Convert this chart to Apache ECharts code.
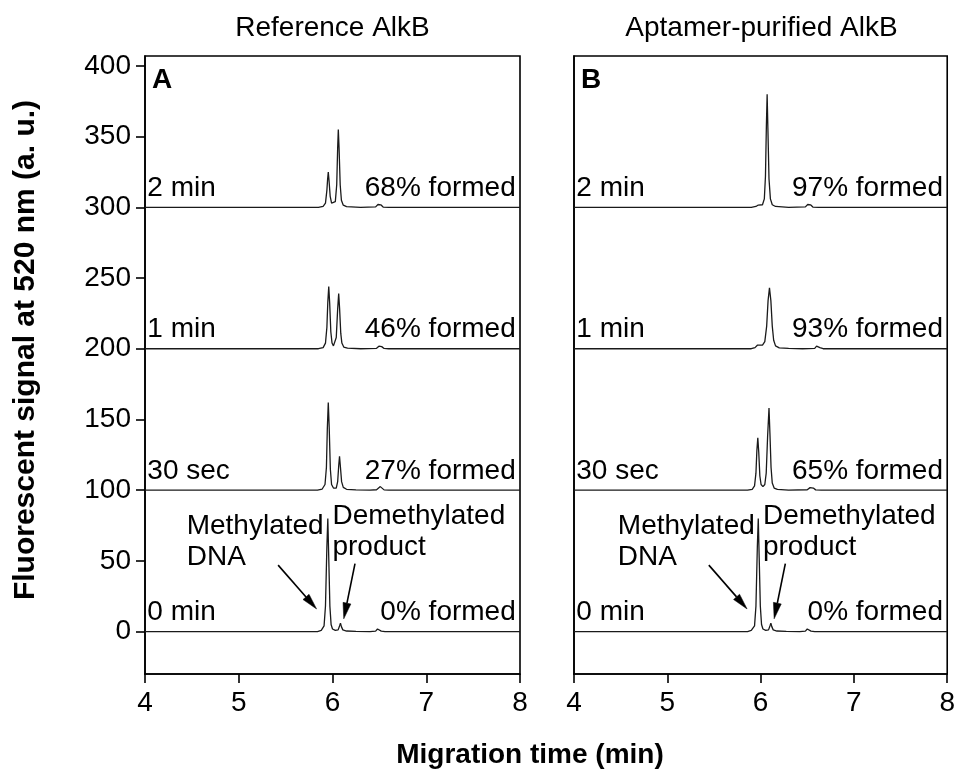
<!DOCTYPE html>
<html>
<head>
<meta charset="utf-8">
<script src="https://cdn.jsdelivr.net/npm/echarts@6/dist/echarts.min.js"></script>
<style>
  html, body { margin: 0; padding: 0; background: #ffffff; }
  #chart { width: 958px; height: 775px; }
</style>
</head>
<body>
<div id="chart"></div>
<script>
// Capillary electrophoresis traces of the AlkB demethylation assay.
// Each trace: [migration time (min), signal above that run's baseline (a.u.)].
const runLabels = ['0 min', '30 sec', '1 min', '2 min'];
const runOffsets = [0, 100, 200, 300];
const refFormed = ['0% formed', '27% formed', '46% formed', '68% formed'];
const aptFormed = ['0% formed', '65% formed', '93% formed', '97% formed'];
const xTicks = [4, 5, 6, 7, 8];
const yTicks = [0, 50, 100, 150, 200, 250, 300, 350, 400];

// Reference AlkB
const ref0min = [[4.00,0],[5.26,0],[5.27,-0.8],[5.28,0],[5.84,0],[5.88,0.8],[5.91,4],[5.925,18],[5.94,60],[5.95,80],[5.96,52],[5.972,18],[5.985,5],[6.00,1.8],[6.03,0.8],[6.06,1.2],[6.075,4],[6.085,6],[6.095,3.5],[6.11,1.2],[6.15,0.4],[6.25,0.2],[6.40,0],[6.46,0.3],[6.48,1.8],[6.49,2.6],[6.50,1.8],[6.52,0.3],[6.56,0],[8.00,0]];
const ref30sec = [[4.00,0],[4.41,0],[4.42,0.8],[4.43,0],[5.17,0],[5.18,0.8],[5.19,0],[5.84,0],[5.89,0.8],[5.92,4],[5.935,16],[5.945,44],[5.955,62],[5.965,44],[5.977,15],[5.99,4],[6.01,1.5],[6.04,1.5],[6.055,6],[6.067,18],[6.075,24],[6.085,16],[6.097,6],[6.115,2],[6.15,0.6],[6.25,0.2],[6.40,0],[6.47,0.3],[6.49,1.6],[6.51,2.5],[6.525,1.5],[6.55,0.2],[6.60,0],[8.00,0]];
const ref1min = [[4.00,0],[5.85,0],[5.90,0.8],[5.925,4],[5.94,15],[5.95,33],[5.96,44],[5.97,32],[5.982,12],[5.995,4],[6.01,2],[6.025,2.5],[6.04,8],[6.055,28],[6.066,39],[6.076,28],[6.088,11],[6.10,4],[6.12,1.2],[6.16,0.4],[6.30,0],[6.47,0.3],[6.495,1.8],[6.51,2.6],[6.525,1.5],[6.55,0.2],[6.60,0],[8.00,0]];
const ref2min = [[4.00,0],[5.85,0],[5.90,0.6],[5.925,3],[5.94,12],[5.948,20],[5.955,25],[5.963,19],[5.975,8],[5.99,3],[6.01,2],[6.03,4],[6.045,16],[6.055,42],[6.062,55],[6.07,42],[6.082,16],[6.095,5],[6.115,1.5],[6.15,0.5],[6.30,0],[6.46,0.3],[6.485,2],[6.50,3],[6.515,1.8],[6.54,0.2],[6.60,0],[8.00,0]];

// Aptamer-purified AlkB
const apt0min = [[4.00,0],[5.28,0],[5.29,-0.8],[5.30,0],[5.86,0],[5.90,0.8],[5.935,4],[5.95,18],[5.965,60],[5.975,80],[5.985,52],[5.997,18],[6.01,5],[6.025,1.8],[6.055,0.8],[6.085,1.2],[6.10,4],[6.11,6],[6.12,3.5],[6.135,1.2],[6.175,0.4],[6.275,0.2],[6.42,0],[6.48,0.3],[6.50,1.8],[6.51,2.6],[6.52,1.8],[6.54,0.3],[6.58,0],[8.00,0]];
const apt30sec = [[4.00,0],[5.86,0],[5.91,0.6],[5.935,3],[5.95,12],[5.96,28],[5.97,37],[5.98,27],[5.992,10],[6.005,4],[6.025,2.5],[6.045,4],[6.06,12],[6.075,38],[6.09,58],[6.10,40],[6.112,16],[6.125,5],[6.145,1.5],[6.18,0.5],[6.30,0],[6.50,0.3],[6.53,1.8],[6.55,2.6],[6.565,1.5],[6.59,0.2],[6.65,0],[8.00,0]];
const apt1min = [[4.00,0],[5.90,0],[5.94,0.8],[5.965,2.5],[5.98,3.2],[5.995,2.5],[6.02,2.5],[6.045,5],[6.065,16],[6.08,34],[6.095,43],[6.11,34],[6.125,16],[6.14,6],[6.16,2],[6.20,0.6],[6.30,0.2],[6.45,0],[6.58,0.3],[6.60,1.8],[6.615,2],[6.635,0.8],[6.67,0],[8.00,0]];
const apt2min = [[4.00,0],[5.90,0],[5.95,0.6],[5.975,1.6],[5.99,1.2],[6.02,1.8],[6.04,6],[6.052,22],[6.062,58],[6.07,80],[6.078,56],[6.09,20],[6.105,6],[6.125,1.8],[6.16,0.6],[6.30,0],[6.48,0.3],[6.505,2],[6.52,3],[6.535,1.8],[6.56,0.2],[6.62,0],[8.00,0]];

const panelTitles = ['Reference AlkB', 'Aptamer-purified AlkB'];
const panelLetters = ['A', 'B'];
const peakNotes = ['Methylated\nDNA', 'Demethylated\nproduct'];

const FONT = "'Liberation Sans', Arial, Helvetica, sans-serif";
const INK = '#000000';
const TRACE = '#1a1a1a';
const FS = 28;

const panels = [
  { runs: [ref0min, ref30sec, ref1min, ref2min], formed: refFormed, shift: 0 },
  { runs: [apt0min, apt30sec, apt1min, apt2min], formed: aptFormed, shift: 0.025 }
];

const grids = [
  { left: 145, top: 56, width: 375, height: 618 },
  { left: 574, top: 56, width: 375, height: 618 }
];

const textBase = { fontFamily: FONT, fontSize: FS, color: INK };

const xAxes = grids.map((g, i) => ({
  type: 'value', gridIndex: i, min: 4, max: 8, interval: 1,
  axisLine: { show: true, onZero: false, lineStyle: { color: INK, width: 1.6 } },
  axisTick: { show: true, inside: false, length: 9, lineStyle: { color: INK, width: 1.6 }, customValues: xTicks },
  axisLabel: { show: true, margin: 15, customValues: xTicks, ...textBase },
  splitLine: { show: false }
}));

const yAxes = grids.map((g, i) => ({
  type: 'value', gridIndex: i, min: -30, max: 407,
  axisLine: { show: true, onZero: false, lineStyle: { color: INK, width: 1.6 } },
  axisTick: { show: i === 0, inside: false, length: 9, lineStyle: { color: INK, width: 1.6 }, customValues: yTicks },
  axisLabel: { show: i === 0, margin: 14, customValues: yTicks, ...textBase },
  splitLine: { show: false }
}));

const hiddenSymbol = { symbol: 'rect', symbolSize: 1, itemStyle: { color: 'rgba(0,0,0,0)' } };

function textMark(coord, text, align, vAlign, extra) {
  return {
    coord: coord,
    label: Object.assign({
      show: true, formatter: text, position: [0, 0], align: align, verticalAlign: vAlign,
      fontFamily: FONT, fontSize: FS, color: INK, lineHeight: 31
    }, extra || {})
  };
}

const series = [];
panels.forEach((p, pi) => {
  p.runs.forEach((run, ri) => {
    const off = runOffsets[ri];
    const marks = [
      textMark([4.03, off], runLabels[ri], 'left', 'bottom', { offset: [0, -3] }),
      textMark([7.96, off], p.formed[ri], 'right', 'bottom', { offset: [0, -3] })
    ];
    if (ri === 0) {
      const d = p.shift;
      marks.push(
        textMark([4.45 + d, 63], peakNotes[0], 'left', 'middle'),
        textMark([6.005 + d, 70], peakNotes[1], 'left', 'middle')
      );
    }
    series.push({
      type: 'line', xAxisIndex: pi, yAxisIndex: pi,
      data: run.map(([t, v]) => [t, v + off]),
      symbol: 'none', showSymbol: false, silent: true, animation: false,
      lineStyle: { color: TRACE, width: 1.3 },
      markPoint: Object.assign({ silent: true, animation: false, data: marks }, hiddenSymbol)
    });
  });

  // Pointer arrows from the peak notes: [x from, y from, x to, y to] in axis units
  const d = p.shift;
  series.push({
    type: 'custom', xAxisIndex: pi, yAxisIndex: pi, silent: true, animation: false, clip: false,
    encode: { x: [0, 2], y: [1, 3] },
    data: [
      [5.42 + d, 47, 5.83 + d, 16],
      [6.24 + d, 48, 6.12 + d, 9]
    ],
    renderItem: function (params, api) {
      const a = api.coord([api.value(0), api.value(1)]);
      const b = api.coord([api.value(2), api.value(3)]);
      const ang = Math.atan2(b[1] - a[1], b[0] - a[0]);
      const c = Math.cos(ang), s = Math.sin(ang);
      const headLen = 16, halfW = 4;
      const base = [b[0] - headLen * c, b[1] - headLen * s];
      const left = [base[0] - halfW * s, base[1] + halfW * c];
      const right = [base[0] + halfW * s, base[1] - halfW * c];
      return {
        type: 'group',
        children: [
          { type: 'line', shape: { x1: a[0], y1: a[1], x2: base[0], y2: base[1] },
            style: { stroke: INK, lineWidth: 1.6 } },
          { type: 'polygon', shape: { points: [b, left, right] },
            style: { fill: INK, stroke: INK, lineWidth: 0.5 } }
        ]
      };
    }
  });
});

const graphics = [];
grids.forEach((g, i) => {
  graphics.push({
    type: 'text', x: g.left + g.width / 2, y: 28,
    style: { text: panelTitles[i], fill: INK, font: `${FS}px ${FONT}`, textAlign: 'center', textVerticalAlign: 'middle' }
  });
  graphics.push({
    type: 'text', x: g.left + 7, y: 80,
    style: { text: panelLetters[i], fill: INK, font: `bold ${FS}px ${FONT}`, textAlign: 'left', textVerticalAlign: 'middle' }
  });
});
graphics.push({
  type: 'text', x: 26, y: 350, rotation: Math.PI / 2,
  style: { text: 'Fluorescent signal at 520 nm (a. u.)', fill: INK, font: `bold 30px ${FONT}`, textAlign: 'center', textVerticalAlign: 'middle' }
});
graphics.push({
  type: 'text', x: 530, y: 755,
  style: { text: 'Migration time (min)', fill: INK, font: `bold ${FS}px ${FONT}`, textAlign: 'center', textVerticalAlign: 'middle' }
});

const chart = echarts.init(document.getElementById('chart'), null, { renderer: 'canvas' });
chart.setOption({
  backgroundColor: '#ffffff',
  animation: false,
  grid: grids.map(g => Object.assign({ show: true, borderColor: INK, borderWidth: 1.6, backgroundColor: 'transparent', containLabel: false }, g)),
  xAxis: xAxes,
  yAxis: yAxes,
  series: series,
  graphic: graphics
});
</script>
</body>
</html>
